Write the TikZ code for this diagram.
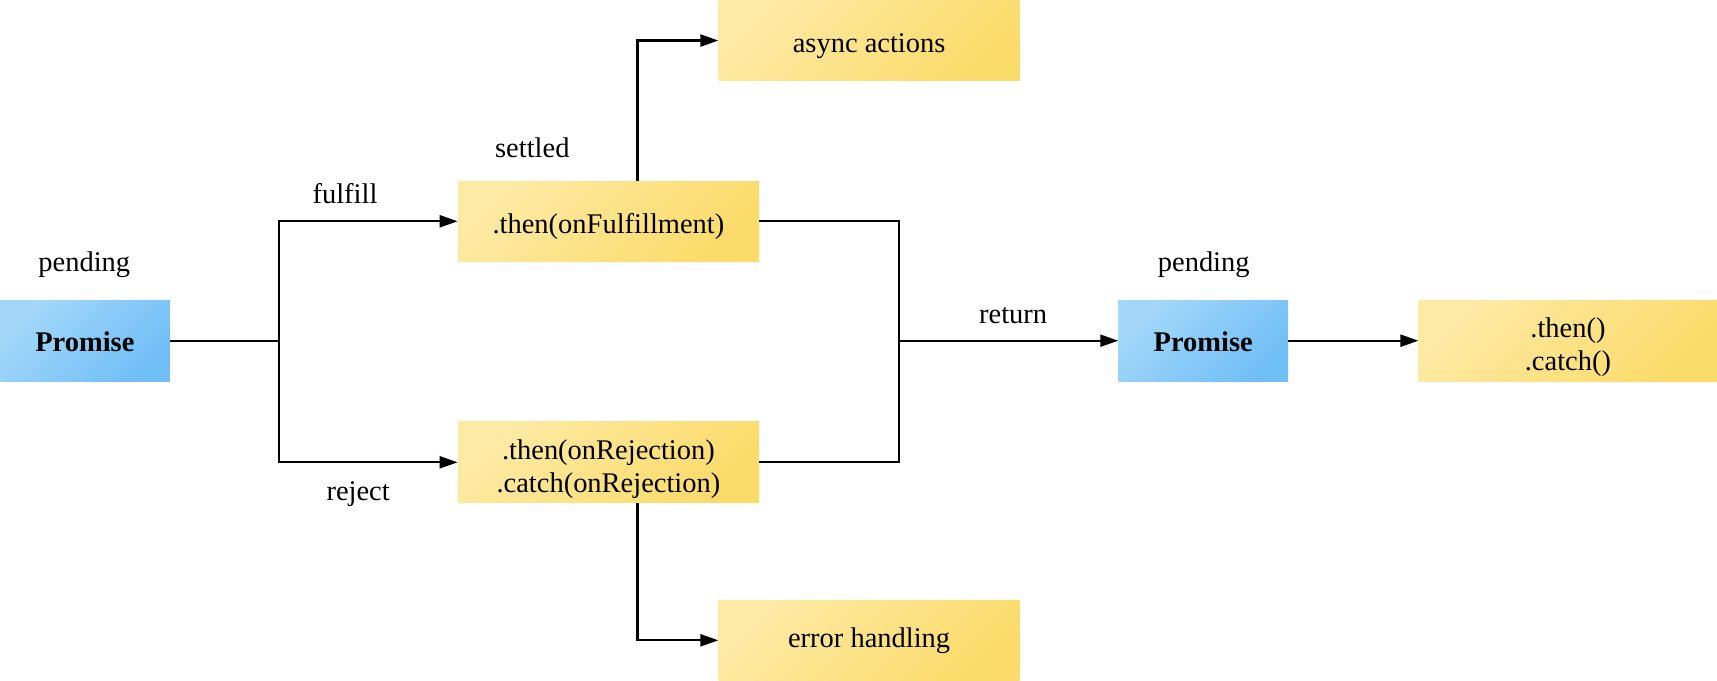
\documentclass[tikz,border=0pt]{standalone}
\usepackage{fontspec}
\setmainfont{Liberation Serif}
\usetikzlibrary{arrows.meta,shadings}
\definecolor{bluelt}{HTML}{A4D8FA}
\definecolor{bluemid}{HTML}{8CCDF8}
\definecolor{bluedk}{HTML}{70BEF6}
\definecolor{yellt}{HTML}{FDEAA4}
\definecolor{yelmid}{HTML}{FCE38C}
\definecolor{yeldk}{HTML}{FBDB6A}
\begin{document}
\begin{tikzpicture}[x=1pt,y=-1pt,scale=1.0953,transform shape,
  every node/.style={font=\fontsize{26}{30.5}\selectfont},
  bluebox/.style={minimum width=155pt,minimum height=74pt,inner sep=0pt,
    top color=bluelt,middle color=bluemid,bottom color=bluedk,shading angle=45, draw=none},
  yelbox/.style={minimum width=275pt,minimum height=73pt,inner sep=0pt,align=center,
    top color=yellt,middle color=yelmid,bottom color=yeldk,shading angle=45, draw=none},
  conn/.style={line width=2.2pt},
  arr/.style={line width=2.2pt,-{Triangle[length=18pt,width=12pt]}},
  lbl/.style={inner sep=0pt}]
\fill[white] (0,0) rectangle (1567.6,621.7);
% nodes
\node[bluebox,text height=24pt,text depth=5pt] (p1) at (77.5,311) {\bfseries Promise};
\node[yelbox,text height=27pt,text depth=5.5pt] (ful) at (555.5,202) {.then(onFulfillment)};
\node[yelbox,text height=26pt,text depth=5pt] (async) at (793.5,37) {async actions};
\node[yelbox,minimum height=74pt,text height=61pt,text depth=5.6pt] (rej) at (555.5,422) {.then(onRejection)\\.catch(onRejection)};
\node[yelbox] (err) at (793.5,584.5) {error handling};
\node[bluebox,text height=24pt,text depth=5pt] (p2) at (1098.5,311) {\bfseries Promise};
\node[yelbox,minimum width=273pt,minimum height=74pt,text height=61pt,text depth=5.6pt] (tc) at (1431.5,311) {.then()\\.catch()};
% labels
\node[lbl] (l1) at (77,242) {pending};
\node[lbl] (l2) at (1099,242) {pending};
\node[lbl] (l3) at (486,135) {settled};
\node[lbl] (l4) at (315,177) {fulfill};
\node[lbl] (l5) at (327,451) {reject};
\node[lbl] (l6) at (925,288) {return};
% connector coordinates
\coordinate (split) at (255,311);
\coordinate (join) at (821,311);
% connectors
\draw[conn] (p1.east) -- (split);
\draw[arr] (split) |- (ful.west);
\draw[arr] (split) |- (rej.west);
\draw[conn] (ful.east) -| (join);
\draw[conn] (rej.east) -| (join);
\draw[arr] (join) -- (p2.west);
\draw[arr] (p2.east) -- (tc.west);
\draw[arr] (ful.north -| 582,0) |- (async.west);
\draw[arr] (rej.south -| 582,0) |- (err.west);
\pgfresetboundingbox
\useasboundingbox (0,0) rectangle (1567.6,621.7);
\end{tikzpicture}
\end{document}
